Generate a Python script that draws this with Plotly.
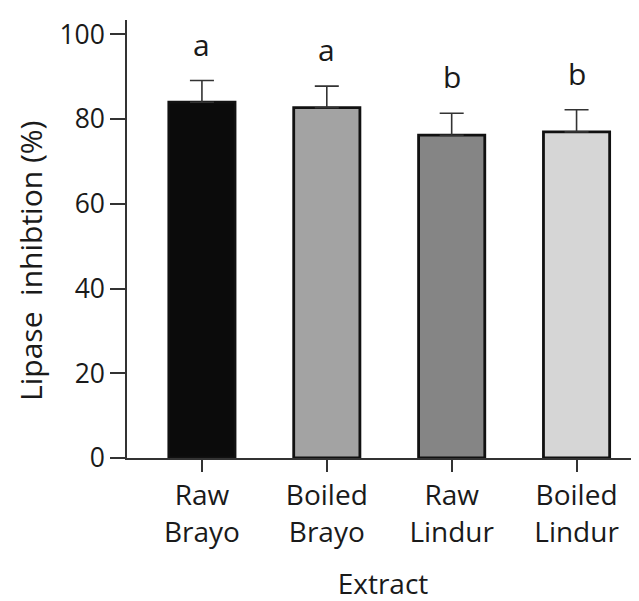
import plotly.graph_objects as go

categories = ["Raw<br>Brayo", "Boiled<br>Brayo", "Raw<br>Lindur", "Boiled<br>Lindur"]
means = [84.0, 82.7, 76.2, 77.0]
errors = [5.1, 5.1, 5.2, 5.2]
letters = ["a", "a", "b", "b"]
colors = ["#0b0b0b", "#a3a3a3", "#858585", "#d6d6d6"]
y_ticks = [0, 20, 40, 60, 80, 100]

FONT = "Open Sans"
TXT = "#1a1a1a"
AX = "#333333"

fig = go.Figure()
fig.add_trace(go.Bar(
    x=categories, y=means,
    width=0.53,
    marker=dict(color=colors, line=dict(color="#111111", width=2.8)),
    error_y=dict(type="data", symmetric=False, array=errors,
                 arrayminus=[0] * len(errors),
                 thickness=1.6, width=12, color=AX),
    showlegend=False,
))

for c, m, e, l in zip(categories, means, errors, letters):
    fig.add_annotation(x=c, y=m + e, text=l, showarrow=False,
                       yanchor="bottom", yshift=14,
                       font=dict(family=FONT, size=30, color=TXT))

# y-axis title as annotation for exact placement
fig.add_annotation(xref="paper", yref="paper", x=0, y=0.45,
                   xanchor="center", yanchor="middle", xshift=-96,
                   textangle=-90, showarrow=False,
                   text="Lipase\u00a0 inhibtion (%)",
                   font=dict(family=FONT, size=30, color=TXT))

fig.update_layout(
    width=639, height=601,
    margin=dict(l=119, r=8, t=9, b=150.7),
    paper_bgcolor="white", plot_bgcolor="white",
    font=dict(family=FONT, color=TXT),
    xaxis=dict(
        range=[-0.6, 3.5], showline=True, linecolor=AX, linewidth=1.5,
        ticks="outside", ticklen=12, tickwidth=1.5, tickcolor=AX,
        tickfont=dict(family=FONT, size=28, color=TXT),
        showgrid=False, zeroline=False,
        title=dict(text="Extract", font=dict(family=FONT, size=28, color=TXT), standoff=26),
    ),
    yaxis=dict(
        range=[0, 103.4], showline=True, linecolor=AX, linewidth=1.5,
        ticks="outside", ticklen=15, tickwidth=1.5, tickcolor=AX,
        tickvals=y_ticks, ticktext=[str(v) for v in y_ticks],
        tickfont=dict(family=FONT, size=26.5, color=TXT),
        showgrid=False, zeroline=False,
    ),
)

fig.write_html("out.html")
